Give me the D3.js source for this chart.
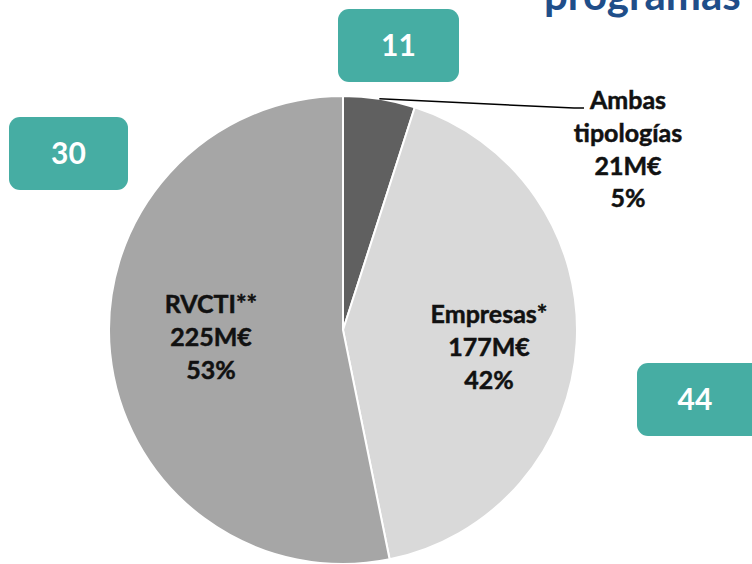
<!DOCTYPE html>
<html>
<head>
<meta charset="utf-8">
<script src="https://cdn.jsdelivr.net/npm/d3@7"></script>
<style>
  html, body { margin: 0; padding: 0; background: #fff; }
  svg { display: block; font-family: Lato, "Open Sans", sans-serif; }
</style>
</head>
<body>
<div id="chart"></div>
<script>
// slices, clockwise from 12 o'clock
var categories = ["Ambas tipologías", "Empresas*", "RVCTI**"];
var amounts = [21, 177, 225];            // M€
var percents = [5, 42, 53];
var labelLines = [
    ["Ambas", "tipologías", "21M€", "5%"],
    ["Empresas*", "177M€", "42%"],
    ["RVCTI**", "225M€", "53%"]
];
var sliceColors = ["#606060", "#d9d9d9", "#a6a6a6"];

// teal counters
var counters = ["11", "30", "44"];

var width = 752, height = 564;

var svg = d3.select("#chart").append("svg")
    .attr("width", width)
    .attr("height", height);

// cut-off title at top
svg.append("text")
    .attr("x", 544)
    .attr("y", 10)
    .attr("fill", "#1f4e89")
    .attr("font-size", "42px")
    .attr("font-weight", "bold")
    .text("programas");

var cx = 343, cy = 330, r = 234;

var pie = d3.pie().sort(null).value(function (d) { return d; });
var arcs = pie(amounts);
var arc = d3.arc().innerRadius(0).outerRadius(r);

var g = svg.append("g")
    .attr("transform", "translate(" + cx + "," + cy + ")");

g.selectAll("path")
    .data(arcs)
    .enter()
    .append("path")
    .attr("d", arc)
    .attr("fill", function (d, i) { return sliceColors[i]; })
    .attr("stroke", "#fff")
    .attr("stroke-width", 2);

// leader line for the small slice
var mid = (arcs[0].startAngle + arcs[0].endAngle) / 2;
var p0 = [cx + r * Math.sin(mid), cy - r * Math.cos(mid)];
svg.append("polyline")
    .attr("points", [p0, [574, 108], [584, 108]].map(function (p) { return p.join(","); }).join(" "))
    .attr("fill", "none")
    .attr("stroke", "#000")
    .attr("stroke-width", 1.5);

// label anchors (centre x, first baseline)
var labelPos = [[628, 109], [489, 323], [211, 313]];
var lineStep = 32.8;

labelLines.forEach(function (lines, i) {
    var t = svg.append("text")
        .attr("text-anchor", "middle")
        .attr("font-size", "25px")
        .attr("font-weight", "bold")
        .attr("fill", "#111")
        .attr("stroke", "#111")
        .attr("stroke-width", 0.5);
    lines.forEach(function (s, j) {
        t.append("tspan")
            .attr("x", labelPos[i][0])
            .attr("y", labelPos[i][1] + j * lineStep)
            .text(s);
    });
});

// teal boxes
var boxes = [
    {x: 338, y: 9, w: 121, h: 73},
    {x: 9, y: 117, w: 119, h: 73},
    {x: 637, y: 363, w: 125, h: 73}
];

var bx = svg.selectAll(".box")
    .data(boxes)
    .enter()
    .append("g")
    .attr("class", "box");

bx.append("rect")
    .attr("x", function (d) { return d.x; })
    .attr("y", function (d) { return d.y; })
    .attr("width", function (d) { return d.w; })
    .attr("height", function (d) { return d.h; })
    .attr("rx", 11)
    .attr("fill", "#46ada3");

bx.append("text")
    .attr("x", function (d) { return d.x + (d.w > 121 ? 116 : d.w) / 2; })
    .attr("y", function (d) { return d.y + d.h / 2; })
    .attr("dy", "0.36em")
    .attr("text-anchor", "middle")
    .attr("fill", "#fff")
    .attr("font-size", "30px")
    .attr("font-weight", "bold")
    .text(function (d, i) { return counters[i]; });
</script>
</body>
</html>
